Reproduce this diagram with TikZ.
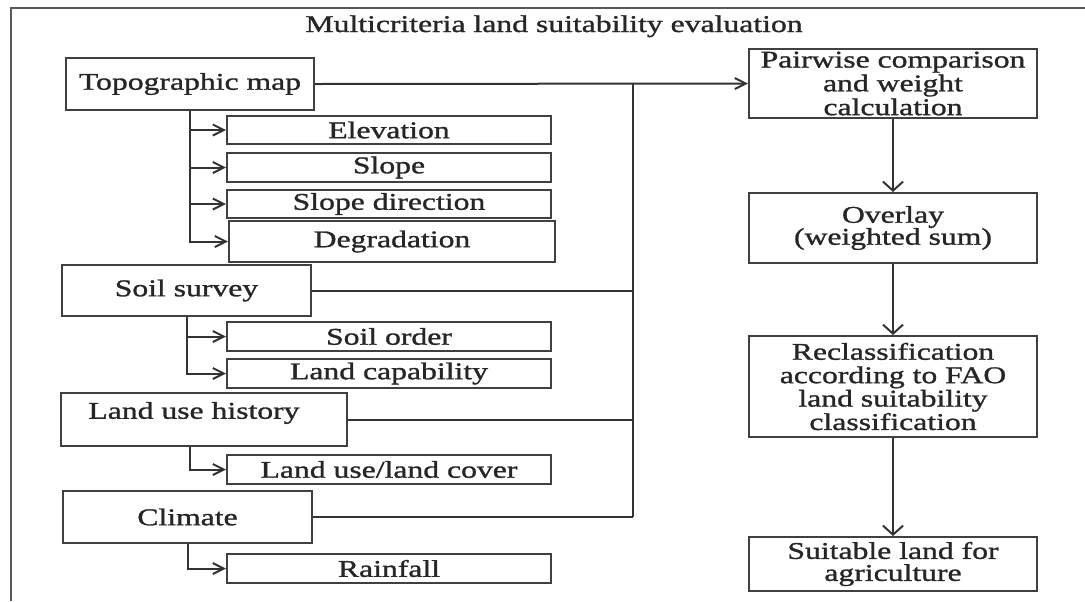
\documentclass[tikz,border=0pt]{standalone}
\usepackage{fontspec}
\setmainfont{Liberation Serif}[FakeStretch=1.32, FakeBold=1.2]
\usetikzlibrary{arrows.meta}
\begin{document}
\begin{tikzpicture}[x=0.5pt,y=-0.5pt,
  line width=1pt,
  conn/.style={draw=black!80, line width=1pt},
  box/.style={draw=black!75, line width=1pt, inner sep=0pt, align=center,
    font=\fontsize{12}{11}\selectfont, text=black!85},
  plain/.style={inner sep=0pt, font=\fontsize{12}{11}\selectfont, text=black!85},
  ha/.style={conn, -{Straight Barb[length=5.5pt,width=5.5pt]}},
  va/.style={conn, -{Straight Barb[length=4.5pt,width=10pt]}},
]
\useasboundingbox (0,0) rectangle (1085,601);
\draw[line width=1.2pt, black!65] (11,601) -- (11,8) -- (1085,8);

\node[plain, anchor=base] (title) at (554,32) {Multicriteria land suitability evaluation};

% left column
\node[box, minimum width=124pt, minimum height=26pt] (topo) at (190,84) {Topographic map};
\node[box, minimum width=162pt, minimum height=14pt] (elev) at (389,130) {Elevation};
\node[box, minimum width=162pt, minimum height=14.5pt] (slope) at (389,167.5) {Slope};
\node[box, minimum width=162pt, minimum height=14pt] (slopedir) at (389,204) {Slope direction};
\node[box, minimum width=163pt, minimum height=20.5pt] (degr) at (392,241.5) {Degradation};

\node[box, minimum width=124.5pt, minimum height=25.5pt] (soil) at (186.5,290.5) {Soil survey};
\node[box, minimum width=162pt, minimum height=14.5pt] (soilorder) at (389,336.5) {Soil order};
\node[box, minimum width=162pt, minimum height=14.5pt] (landcap) at (389,373.5) {Land capability};

\node[box, minimum width=143pt, minimum height=26.5pt] (luh) at (204,419.5) {};
\node[plain] (luhtext) at (194,413) {Land use history};
\node[box, minimum width=162pt, minimum height=14.5pt] (lulc) at (389,469.5) {Land use/land cover};

\node[box, minimum width=124.5pt, minimum height=26pt] (climate) at (187.5,517) {Climate};
\node[box, minimum width=162pt, minimum height=14.5pt] (rain) at (389,568.5) {Rainfall};

% right column
\node[box, minimum width=144pt, minimum height=34.5pt, font=\fontsize{12}{9.8}\selectfont] (pair) at (893,83.5) {Pairwise comparison\\and weight\\calculation};
\node[box, minimum width=144pt, minimum height=35pt] (overlay) at (893,228) {Overlay\\(weighted sum)};
\node[box, minimum width=144pt, minimum height=50.5pt, font=\fontsize{12}{11.7}\selectfont] (reclass) at (893,386.5) {Reclassification\\according to FAO\\land suitability\\classification};
\node[box, minimum width=144pt, minimum height=27pt] (suit) at (893,564) {Suitable land for\\agriculture};

% branches
\draw[ha] (topo.south) |- (elev.west);
\draw[ha] (topo.south) |- (slope.west);
\draw[ha] (topo.south) |- (slopedir.west);
\draw[ha] (topo.south) |- (degr.west);
\draw[ha] (soil.south) |- (soilorder.west);
\draw[ha] (soil.south) |- (landcap.west);
\draw[ha] (topo.south |- luh.south) |- (lulc.west);
\draw[ha] (climate.south) |- (rain.west);

% bus
\coordinate (bus) at (633,84);
\draw[ha] (topo.east) -- (pair.west);
\draw[conn] (bus) -- (bus |- climate.east);
\draw[conn] (soil.east) -- (soil.east -| bus);
\draw[conn] (luh.east) -- (luh.east -| bus);
\draw[conn] (climate.east) -- (climate.east -| bus);

% right flow
\draw[va] (pair.south) -- (overlay.north);
\draw[va] (overlay.south) -- (reclass.north);
\draw[va] (reclass.south) -- (suit.north);
\end{tikzpicture}
\end{document}
